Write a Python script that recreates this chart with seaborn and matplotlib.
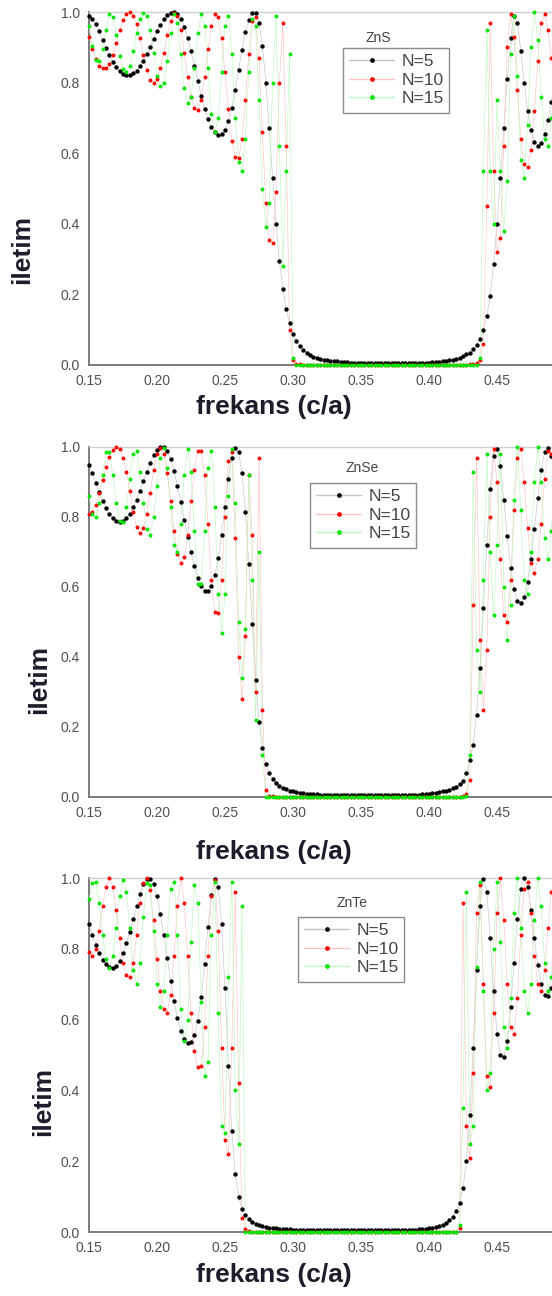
import numpy as np
import matplotlib
matplotlib.use("Agg")
import matplotlib.pyplot as plt
from matplotlib.lines import Line2D
from matplotlib.ticker import MultipleLocator, FixedLocator, FormatStrFormatter
import seaborn as sns

sns.set_style("white")
plt.rcParams["font.family"] = ["Liberation Sans", "DejaVu Sans"]

# reduced frequency samples (c/a), step 0.0025 from 0.150 to 0.4925
freq = np.round(0.15 + 0.0025 * np.arange(138), 4)

series_labels = ["N=5", "N=10", "N=15"]
materials = ["ZnS", "ZnSe", "ZnTe"]
x_major_ticks = [0.15, 0.20, 0.25, 0.30, 0.35, 0.40, 0.45]

# ---------------- ZnS transmission ----------------
zns_n5 = [
    0.99, 0.98, 0.965, 0.945, 0.922, 0.899, 0.877, 0.858, 0.843, 0.832,
    0.825, 0.822, 0.822, 0.826, 0.834, 0.846, 0.862, 0.881, 0.902, 0.924,
    0.945, 0.964, 0.979, 0.991, 0.998, 1.0, 0.995, 0.981, 0.958, 0.927,
    0.889, 0.847, 0.804, 0.763, 0.726, 0.696, 0.673, 0.659, 0.652, 0.653,
    0.665, 0.690, 0.728, 0.778, 0.836, 0.893, 0.943, 0.978, 0.997, 0.997,
    0.970, 0.905, 0.800, 0.670, 0.530, 0.400, 0.295, 0.215, 0.158, 0.118,
    0.089, 0.069, 0.054, 0.043, 0.035, 0.029, 0.024, 0.020, 0.017, 0.015,
    0.013, 0.012, 0.011, 0.010, 0.009, 0.008, 0.008, 0.007, 0.007, 0.006,
    0.006, 0.006, 0.006, 0.005, 0.005, 0.005, 0.005, 0.005, 0.005, 0.005,
    0.005, 0.005, 0.005, 0.005, 0.005, 0.006, 0.006, 0.006, 0.006, 0.007,
    0.007, 0.008, 0.008, 0.009, 0.010, 0.011, 0.013, 0.015, 0.018, 0.021,
    0.025, 0.030, 0.035, 0.045, 0.058, 0.075, 0.100, 0.138, 0.195, 0.285,
    0.400, 0.530, 0.670, 0.810, 0.925, 0.990, 0.970, 0.890, 0.800, 0.720,
    0.665, 0.632, 0.620, 0.628, 0.655, 0.695, 0.745, 0.800,
]
zns_n10 = [
    0.93, 0.895, 0.866, 0.848, 0.840, 0.840, 0.852, 0.877, 0.912, 0.948,
    0.977, 0.995, 1.0, 0.99, 0.965, 0.925, 0.877, 0.835, 0.808, 0.800,
    0.81, 0.84, 0.885, 0.935, 0.975, 0.998, 0.99, 0.95, 0.885, 0.815,
    0.76, 0.728, 0.722, 0.75, 0.815, 0.895, 0.96, 0.995, 0.985, 0.925,
    0.83, 0.725, 0.635, 0.59, 0.585, 0.64, 0.75, 0.88, 0.975, 0.985,
    0.87, 0.66, 0.46, 0.355, 0.345, 0.49, 0.80, 0.97, 0.62, 0.10,
    0.015, 0.004, 0.002, 0.001, 0.001, 0.0, 0.0, 0.0, 0.0, 0.0,
    0.0, 0.0, 0.0, 0.0, 0.0, 0.0, 0.0, 0.0, 0.0, 0.0,
    0.0, 0.0, 0.0, 0.0, 0.0, 0.0, 0.0, 0.0, 0.0, 0.0,
    0.0, 0.0, 0.0, 0.0, 0.0, 0.0, 0.0, 0.0, 0.0, 0.0,
    0.0, 0.0, 0.0, 0.0, 0.0, 0.0, 0.0, 0.0, 0.0, 0.0,
    0.0, 0.001, 0.002, 0.003, 0.006, 0.015, 0.06, 0.45, 0.97, 0.55,
    0.32, 0.36, 0.62, 0.90, 0.995, 0.93, 0.78, 0.64, 0.57, 0.56,
    0.61, 0.72, 0.86, 0.97, 0.995, 0.95, 0.87, 0.78,
]
zns_n15 = [
    0.96, 0.905, 0.865, 0.862, 0.895, 0.95, 0.995, 0.985, 0.935, 0.875,
    0.838, 0.83, 0.848, 0.89, 0.94, 0.98, 0.998, 0.99, 0.95, 0.885,
    0.82, 0.79, 0.80, 0.86, 0.94, 0.995, 0.97, 0.88, 0.785, 0.742,
    0.76, 0.84, 0.94, 0.995, 0.96, 0.84, 0.71, 0.66, 0.70, 0.83,
    0.96, 0.99, 0.88, 0.70, 0.575, 0.55, 0.64, 0.83, 0.98, 0.96,
    0.75, 0.50, 0.39, 0.46, 0.80, 0.99, 0.62, 0.28, 0.55, 0.88,
    0.02, 0.0, 0.0, 0.0, 0.0, 0.0, 0.0, 0.0, 0.0, 0.0,
    0.0, 0.0, 0.0, 0.0, 0.0, 0.0, 0.0, 0.0, 0.0, 0.0,
    0.0, 0.0, 0.0, 0.0, 0.0, 0.0, 0.0, 0.0, 0.0, 0.0,
    0.0, 0.0, 0.0, 0.0, 0.0, 0.0, 0.0, 0.0, 0.0, 0.0,
    0.0, 0.0, 0.0, 0.0, 0.0, 0.0, 0.0, 0.0, 0.0, 0.0,
    0.0, 0.0, 0.0, 0.0, 0.001, 0.02, 0.55, 0.95, 0.55, 0.40,
    0.75, 0.55, 0.38, 0.52, 0.88, 0.99, 0.82, 0.58, 0.53, 0.68,
    0.90, 1.0, 0.92, 0.76, 0.64, 0.62, 0.70, 0.84,
]

# ---------------- ZnSe transmission ----------------
znse_n5 = [
    0.95, 0.925, 0.898, 0.871, 0.846, 0.825, 0.808, 0.796, 0.789, 0.787,
    0.789, 0.797, 0.810, 0.828, 0.850, 0.875, 0.902, 0.929, 0.955, 0.976,
    0.991, 0.999, 0.999, 0.988, 0.965, 0.932, 0.890, 0.842, 0.792, 0.743,
    0.699, 0.660, 0.627, 0.603, 0.589, 0.588, 0.602, 0.633, 0.683, 0.750,
    0.830, 0.910, 0.970, 0.998, 0.985, 0.925, 0.815, 0.665, 0.495, 0.335,
    0.215, 0.140, 0.095, 0.068, 0.051, 0.040, 0.032, 0.026, 0.022, 0.018,
    0.016, 0.014, 0.012, 0.011, 0.010, 0.009, 0.008, 0.008, 0.007, 0.007,
    0.006, 0.006, 0.006, 0.006, 0.005, 0.005, 0.005, 0.005, 0.005, 0.005,
    0.005, 0.005, 0.005, 0.005, 0.005, 0.005, 0.005, 0.005, 0.005, 0.005,
    0.005, 0.005, 0.006, 0.006, 0.006, 0.006, 0.007, 0.007, 0.008, 0.009,
    0.010, 0.011, 0.012, 0.014, 0.016, 0.018, 0.021, 0.025, 0.030, 0.037,
    0.047, 0.070, 0.105, 0.150, 0.235, 0.370, 0.540, 0.720, 0.880, 0.975,
    0.995, 0.945, 0.850, 0.745, 0.655, 0.593, 0.560, 0.553, 0.572, 0.615,
    0.680, 0.765, 0.855, 0.935, 0.985, 0.998, 0.975, 0.920,
]
znse_n10 = [
    0.81, 0.815, 0.835, 0.868, 0.905, 0.942, 0.972, 0.992, 1.0, 0.995,
    0.97, 0.93, 0.875, 0.815, 0.772, 0.755, 0.768, 0.81, 0.87, 0.935,
    0.98, 0.998, 0.98, 0.925, 0.845, 0.76, 0.695, 0.668, 0.685, 0.75,
    0.845, 0.935, 0.99, 0.99, 0.92, 0.78, 0.62, 0.53, 0.525, 0.62,
    0.80, 0.96, 0.985, 0.74, 0.40, 0.28, 0.46, 0.92, 0.75, 0.30,
    0.97, 0.25, 0.02, 0.004, 0.002, 0.001, 0.0, 0.0, 0.0, 0.0,
    0.0, 0.0, 0.0, 0.0, 0.0, 0.0, 0.0, 0.0, 0.0, 0.0,
    0.0, 0.0, 0.0, 0.0, 0.0, 0.0, 0.0, 0.0, 0.0, 0.0,
    0.0, 0.0, 0.0, 0.0, 0.0, 0.0, 0.0, 0.0, 0.0, 0.0,
    0.0, 0.0, 0.0, 0.0, 0.0, 0.0, 0.0, 0.0, 0.0, 0.0,
    0.0, 0.0, 0.0, 0.0, 0.0, 0.0, 0.0, 0.0, 0.0, 0.001,
    0.003, 0.01, 0.05, 0.55, 0.97, 0.45, 0.25, 0.42, 0.80, 0.995,
    0.90, 0.68, 0.52, 0.50, 0.62, 0.82, 0.97, 0.995, 0.90, 0.77,
    0.67, 0.64, 0.68, 0.78, 0.91, 0.99, 0.98, 0.90,
]
znse_n15 = [
    0.86, 0.81, 0.80, 0.84, 0.92, 0.985, 0.985, 0.92, 0.84, 0.79,
    0.785, 0.83, 0.91, 0.98, 0.99, 0.93, 0.84, 0.765, 0.75, 0.80,
    0.89, 0.97, 0.998, 0.94, 0.83, 0.72, 0.70, 0.78, 0.92, 0.995,
    0.93, 0.76, 0.61, 0.61, 0.76, 0.94, 0.99, 0.83, 0.58, 0.47,
    0.58, 0.86, 0.995, 0.84, 0.50, 0.34, 0.48, 0.92, 0.62, 0.22,
    0.70, 0.12, 0.0, 0.0, 0.0, 0.0, 0.0, 0.0, 0.0, 0.0,
    0.0, 0.0, 0.0, 0.0, 0.0, 0.0, 0.0, 0.0, 0.0, 0.0,
    0.0, 0.0, 0.0, 0.0, 0.0, 0.0, 0.0, 0.0, 0.0, 0.0,
    0.0, 0.0, 0.0, 0.0, 0.0, 0.0, 0.0, 0.0, 0.0, 0.0,
    0.0, 0.0, 0.0, 0.0, 0.0, 0.0, 0.0, 0.0, 0.0, 0.0,
    0.0, 0.0, 0.0, 0.0, 0.0, 0.0, 0.0, 0.0, 0.0, 0.0,
    0.0, 0.002, 0.12, 0.93, 0.42, 0.30, 0.62, 0.98, 0.70, 0.52,
    0.72, 0.98, 0.60, 0.45, 0.55, 0.85, 1.0, 0.82, 0.62, 0.58,
    0.70, 0.90, 1.0, 0.90, 0.74, 0.68, 0.76, 0.92,
]

# ---------------- ZnTe transmission ----------------
znte_n5 = [
    0.87, 0.84, 0.812, 0.788, 0.769, 0.756, 0.748, 0.746, 0.752, 0.766,
    0.787, 0.815, 0.848, 0.884, 0.921, 0.955, 0.982, 0.997, 0.998, 0.982,
    0.948, 0.898, 0.838, 0.773, 0.709, 0.652, 0.605, 0.569, 0.546, 0.535,
    0.537, 0.556, 0.597, 0.664, 0.757, 0.862, 0.952, 0.997, 0.975, 0.870,
    0.690, 0.470, 0.285, 0.165, 0.100, 0.066, 0.047, 0.036, 0.028, 0.023,
    0.019, 0.016, 0.014, 0.012, 0.011, 0.010, 0.009, 0.009, 0.008, 0.008,
    0.007, 0.007, 0.007, 0.007, 0.007, 0.006, 0.006, 0.006, 0.006, 0.006,
    0.006, 0.006, 0.006, 0.005, 0.005, 0.005, 0.005, 0.005, 0.005, 0.005,
    0.005, 0.005, 0.005, 0.005, 0.005, 0.005, 0.005, 0.005, 0.005, 0.005,
    0.005, 0.005, 0.006, 0.006, 0.006, 0.007, 0.007, 0.008, 0.008, 0.009,
    0.010, 0.012, 0.014, 0.017, 0.021, 0.026, 0.033, 0.043, 0.058, 0.082,
    0.125, 0.200, 0.330, 0.520, 0.740, 0.920, 0.998, 0.960, 0.830, 0.680,
    0.560, 0.500, 0.495, 0.540, 0.635, 0.760, 0.885, 0.970, 0.999, 0.975,
    0.910, 0.830, 0.755, 0.700, 0.670, 0.668, 0.690, 0.730,
]
znte_n10 = [
    0.79, 0.78, 0.80, 0.85, 0.92, 0.975, 1.0, 0.975, 0.91, 0.83,
    0.76, 0.725, 0.72, 0.76, 0.84, 0.93, 0.985, 1.0, 0.965, 0.88,
    0.77, 0.68, 0.63, 0.62, 0.67, 0.78, 0.92, 1.0, 0.93, 0.78,
    0.62, 0.51, 0.465, 0.47, 0.58, 0.78, 0.95, 0.995, 0.85, 0.52,
    0.26, 0.22, 0.52, 0.96, 0.42, 0.04, 0.008, 0.003, 0.001, 0.0,
    0.0, 0.0, 0.0, 0.0, 0.0, 0.0, 0.0, 0.0, 0.0, 0.0,
    0.0, 0.0, 0.0, 0.0, 0.0, 0.0, 0.0, 0.0, 0.0, 0.0,
    0.0, 0.0, 0.0, 0.0, 0.0, 0.0, 0.0, 0.0, 0.0, 0.0,
    0.0, 0.0, 0.0, 0.0, 0.0, 0.0, 0.0, 0.0, 0.0, 0.0,
    0.0, 0.0, 0.0, 0.0, 0.0, 0.0, 0.0, 0.0, 0.0, 0.0,
    0.0, 0.0, 0.0, 0.0, 0.0, 0.0, 0.0, 0.0, 0.0, 0.01,
    0.93, 0.30, 0.21, 0.45, 0.90, 0.98, 0.70, 0.44, 0.41, 0.62,
    0.90, 1.0, 0.88, 0.70, 0.58, 0.56, 0.66, 0.84, 0.97, 0.99,
    0.90, 0.78, 0.70, 0.68, 0.74, 0.86, 0.96, 0.99,
]
znte_n15 = [
    0.94, 0.985, 0.99, 0.93, 0.84, 0.77, 0.745, 0.78, 0.86, 0.95,
    0.995, 0.96, 0.86, 0.74, 0.70, 0.76, 0.89, 0.985, 0.98, 0.85,
    0.70, 0.635, 0.68, 0.84, 0.97, 0.99, 0.84, 0.63, 0.54, 0.60,
    0.82, 0.98, 0.93, 0.65, 0.44, 0.48, 0.84, 0.99, 0.62, 0.30,
    0.28, 0.72, 0.99, 0.40, 0.25, 0.92, 0.0, 0.0, 0.0, 0.0,
    0.0, 0.0, 0.0, 0.0, 0.0, 0.0, 0.0, 0.0, 0.0, 0.0,
    0.0, 0.0, 0.0, 0.0, 0.0, 0.0, 0.0, 0.0, 0.0, 0.0,
    0.0, 0.0, 0.0, 0.0, 0.0, 0.0, 0.0, 0.0, 0.0, 0.0,
    0.0, 0.0, 0.0, 0.0, 0.0, 0.0, 0.0, 0.0, 0.0, 0.0,
    0.0, 0.0, 0.0, 0.0, 0.0, 0.0, 0.0, 0.0, 0.0, 0.0,
    0.0, 0.0, 0.0, 0.0, 0.0, 0.0, 0.0, 0.0, 0.0, 0.02,
    0.35, 0.96, 0.25, 0.30, 0.75, 0.99, 0.68, 0.40, 0.45, 0.80,
    0.99, 0.82, 0.58, 0.52, 0.66, 0.90, 1.0, 0.86, 0.68, 0.62,
    0.70, 0.88, 1.0, 0.92, 0.76, 0.68, 0.72, 0.86,
]

panel_data = [
    (zns_n5, zns_n10, zns_n15),
    (znse_n5, znse_n10, znse_n15),
    (znte_n5, znte_n10, znte_n15),
]
for trio in panel_data:
    for arr in trio:
        if len(arr) != len(freq):
            raise ValueError(f"series length {len(arr)} != {len(freq)}")

dot_colors = ["#000000", "#ff0000", "#00e600"]
dot_sizes = [10, 8, 8]
line_colors = ["#c4c4c4", "#ffc4c4", "#bff7bf"]

W, H = 552, 1296
fig = plt.figure(figsize=(W / 100, H / 100), dpi=100, facecolor="white")

# axes boxes in pixels: left, top, bottom ; x range 0.15-0.50 spans 476 px
ax_left, ax_width = 89, 476
panel_boxes = [(12, 365), (447, 797), (878, 1232)]
legend_boxes = [(343, 48), (310, 483), (298, 917)]
title_pos = [(378, 38), (362, 468), (352, 903)]
xlabel_top = [395, 840, 1263]
ylabel_pos = [(22, 250), (39, 679), (43, 1102)]

label_color = "#1c1c2a"
tick_color = "#4f4f4f"
spine_color = "#7c7c7c"

for k, (top, bottom) in enumerate(panel_boxes):
    h = bottom - top
    ax = fig.add_axes([ax_left / W, 1 - bottom / H, ax_width / W, h / H])
    ax.set_facecolor("white")

    for j in range(3):
        vals = np.asarray(panel_data[k][j])
        sns.lineplot(x=freq, y=vals, ax=ax, color=line_colors[j], lw=0.45,
                     estimator=None, sort=False, zorder=2 + j)
        sns.scatterplot(x=freq, y=vals, ax=ax, color=dot_colors[j], s=dot_sizes[j],
                        linewidth=0, zorder=5 + j, clip_on=False)

    ax.set_xlim(0.15, 0.50)
    ax.set_ylim(0.0, 1.0)
    ax.xaxis.set_major_locator(FixedLocator(x_major_ticks))
    ax.xaxis.set_minor_locator(MultipleLocator(0.025))
    ax.yaxis.set_major_locator(MultipleLocator(0.2))
    ax.yaxis.set_minor_locator(MultipleLocator(0.1))
    ax.xaxis.set_major_formatter(FormatStrFormatter("%.2f"))
    ax.yaxis.set_major_formatter(FormatStrFormatter("%.1f"))
    ax.tick_params(which="major", direction="out", length=4, width=1,
                   color=spine_color, labelsize=10, labelcolor=tick_color, pad=2.5)
    ax.tick_params(which="minor", direction="out", length=2.5, width=1,
                   color=spine_color)
    ax.tick_params(top=False, right=False, which="both")

    for side in ["left", "bottom"]:
        ax.spines[side].set_color(spine_color)
        ax.spines[side].set_linewidth(1.4)
        ax.spines[side].set_zorder(1)
    ax.spines["top"].set_color("#cfcfcf")
    ax.spines["top"].set_linewidth(1.0)
    ax.spines["top"].set_zorder(1)
    ax.spines["right"].set_visible(False)

    ax.set_xlabel("frekans (c/a)", fontsize=19, fontweight="bold", color=label_color)
    ax.xaxis.set_label_coords((274 - ax_left) / ax_width, -(xlabel_top[k] - bottom) / h)
    ax.xaxis.label.set_va("top")
    ax.set_ylabel("iletim", fontsize=19, fontweight="bold", color=label_color)
    yl_x, yl_y = ylabel_pos[k]
    ax.yaxis.set_label_coords((yl_x - ax_left) / ax_width, (bottom - yl_y) / h)
    ax.yaxis.label.set_va("center")

    handles = [
        Line2D([0], [0], color=line_colors[j], lw=1.0, marker="o", markersize=3.4,
               markerfacecolor=dot_colors[j], markeredgewidth=0)
        for j in range(3)
    ]
    lx, ly = legend_boxes[k]
    leg = ax.legend(handles, series_labels, loc="upper left",
                    bbox_to_anchor=((lx - ax_left) / ax_width, (bottom - ly) / h),
                    borderaxespad=0, frameon=True, fancybox=False, framealpha=1,
                    edgecolor="#8a8a8a", fontsize=12.5, handlelength=2.6,
                    handletextpad=0.4, labelspacing=0.2, borderpad=0.35)
    leg.get_frame().set_linewidth(1.0)
    for t in leg.get_texts():
        t.set_color("#444444")
    leg.set_zorder(20)

    tx, ty = title_pos[k]
    ax.text((tx - ax_left) / ax_width, (bottom - ty) / h, materials[k],
            transform=ax.transAxes, ha="center", va="center", fontsize=10,
            color="#444444", zorder=21)

fig.savefig("out.png", dpi=100, facecolor="white")
